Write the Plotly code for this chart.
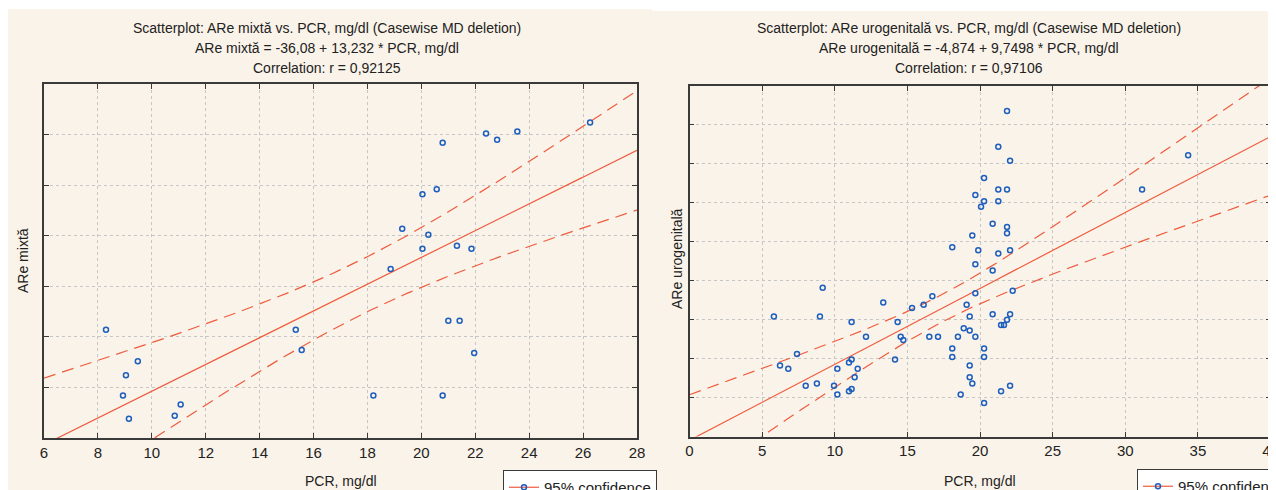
import numpy as np
import plotly.graph_objects as go

# ---------------- data ----------------
# Left panel: ARe mixtă vs PCR
PCR_MIX = [8.30, 9.48, 9.04, 8.93, 9.15, 11.07, 10.85, 15.34, 15.56, 26.26, 22.40, 22.81,
           23.56, 20.79, 20.57, 20.04, 19.29, 20.26, 20.04, 21.32, 21.86, 18.86, 21.00,
           21.42, 21.96, 18.22, 20.79]
ARE_MIX = [157, 126, 112, 92, 69, 83, 72, 157, 137, 362, 351, 345,
           353, 342, 296, 291, 257, 251, 237, 240, 237, 217, 166,
           166, 134, 92, 92]
MIX_INTERCEPT = -36.08
MIX_SLOPE = 13.232

# Right panel: ARe urogenitală vs PCR
PCR_URO = [5.81, 6.23, 6.80, 7.40, 8.00, 8.77, 8.98, 9.17, 9.95, 10.18, 10.18, 10.98,
           11.16, 11.16, 10.98, 11.16, 11.37, 11.58, 12.15, 13.34, 14.15, 14.33, 14.54,
           14.72, 15.32, 16.12, 16.51, 16.72, 17.11, 18.09, 18.09, 18.09, 18.48, 18.67,
           18.88, 19.08, 19.29, 19.29, 19.29, 19.29, 19.47, 19.47, 19.68, 19.68, 19.68,
           19.68, 19.88, 20.07, 20.28, 20.28, 20.28, 20.28, 20.28, 20.87, 20.87, 20.87,
           21.26, 21.26, 21.26, 21.26, 21.45, 21.65, 21.45, 21.86, 21.86, 21.86, 21.86,
           21.86, 22.07, 22.07, 22.07, 22.07, 22.25, 31.16, 34.33]
ARE_URO = [154, 91, 87, 106, 65, 68, 154, 191, 65, 54, 87, 95,
           99, 147, 58, 61, 76, 87, 128, 172, 99, 147, 128,
           124, 165, 169, 128, 180, 128, 243, 113, 102, 128, 54,
           139, 169, 154, 136, 91, 76, 68, 258, 310, 221, 184,
           128, 239, 295, 332, 302, 113, 102, 43, 273, 213, 157,
           372, 317, 302, 235, 143, 143, 58, 418, 317, 269, 261,
           150, 354, 239, 157, 65, 187, 317, 361]
URO_INTERCEPT = -4.874
URO_SLOPE = 9.7498

X_TICKS_MIX = [6, 8, 10, 12, 14, 16, 18, 20, 22, 24, 26, 28]
X_TICKS_URO = [0, 5, 10, 15, 20, 25, 30, 35, 40]
Y_TICKS_MIX = [50, 100, 150, 200, 250, 300, 350, 400]
Y_TICKS_URO = [0, 50, 100, 150, 200, 250, 300, 350, 400, 450]

TITLES_MIX = ["Scatterplot: ARe mixtă vs. PCR, mg/dl (Casewise MD deletion)",
              "ARe mixtă = -36,08 + 13,232 * PCR, mg/dl",
              "Correlation: r = 0,92125"]
TITLES_URO = ["Scatterplot: ARe urogenitală vs. PCR, mg/dl (Casewise MD deletion)",
              "ARe urogenitală = -4,874 + 9,7498 * PCR, mg/dl",
              "Correlation: r = 0,97106"]

# ---------------- styling ----------------
OFF = 8                      # page body margin
W, H = 1276 - OFF, 490 - OFF  # figure size so that page = window size
BEIGE = "#FAF3E9"
RED = "#EF5B3D"
BLUE = "#1E5FBE"
FRAME = "#3A3A3A"
GRID = "#C6C6C6"
FONT = "Liberation Sans, Arial, sans-serif"


def px_x(p):
    return (p - OFF) / W


def px_y(p):
    return 1 - (p - OFF) / H


def t975(df):
    z = 1.959963985
    return (z + (z**3 + z) / (4 * df) + (5 * z**5 + 16 * z**3 + 3 * z) / (96 * df**2)
            + (3 * z**7 + 19 * z**5 + 17 * z**3 - 15 * z) / (384 * df**3))


def fit_band(xs, ys, b0, b1, xr):
    x = np.asarray(xs, float)
    y = np.asarray(ys, float)
    n = len(x)
    res = y - (b0 + b1 * x)
    s = np.sqrt(np.sum(res**2) / (n - 2))
    xm = x.mean()
    sxx = np.sum((x - xm) ** 2)
    g = np.linspace(xr[0], xr[1], 300)
    yh = b0 + b1 * g
    hw = t975(n - 2) * s * np.sqrt(1 / n + (g - xm) ** 2 / sxx)
    return g, yh, yh - hw, yh + hw


fig = go.Figure()

panels = [
    dict(xs=PCR_MIX, ys=ARE_MIX, b0=MIX_INTERCEPT, b1=MIX_SLOPE, xr=[6, 28],
         xa="x", ya="y", legend="legend"),
    dict(xs=PCR_URO, ys=ARE_URO, b0=URO_INTERCEPT, b1=URO_SLOPE, xr=[0, 40],
         xa="x2", ya="y2", legend="legend2"),
]

for p in panels:
    g, yh, lo, hi = fit_band(p["xs"], p["ys"], p["b0"], p["b1"], p["xr"])
    for band in (lo, hi):
        fig.add_trace(go.Scatter(x=g, y=band, mode="lines",
                                 line=dict(color=RED, width=1.2, dash="12px,7px"),
                                 xaxis=p["xa"], yaxis=p["ya"], showlegend=False, hoverinfo="skip"))
    fig.add_trace(go.Scatter(x=g, y=yh, mode="lines", line=dict(color=RED, width=1.2),
                             xaxis=p["xa"], yaxis=p["ya"], showlegend=False, hoverinfo="skip"))
    fig.add_trace(go.Scatter(x=p["xs"], y=p["ys"], mode="markers",
                             marker=dict(symbol="circle-open", size=5, color=BLUE,
                                         line=dict(width=1.5, color=BLUE)),
                             xaxis=p["xa"], yaxis=p["ya"], showlegend=False))
    # legend entry (no marks drawn)
    fig.add_trace(go.Scatter(x=[None], y=[None], mode="lines+markers", name="95% confidence",
                             line=dict(color=RED, width=1.2),
                             marker=dict(symbol="circle-open", size=5, color=BLUE,
                                         line=dict(width=1.5, color=BLUE)),
                             xaxis=p["xa"], yaxis=p["ya"], showlegend=True, legend=p["legend"]))

axis_common = dict(
    showline=True, linecolor=FRAME, linewidth=1.5, mirror="ticks",
    ticks="inside", ticklen=5, tickcolor=FRAME, tickwidth=1,
    showgrid=True, gridcolor=GRID, gridwidth=1, griddash="3px,3px",
    zeroline=False, automargin=False,
    tickfont=dict(family=FONT, size=15, color="#222222"),
)

fig.update_layout(
    width=W, height=H,
    margin=dict(l=0, r=0, t=0, b=0, autoexpand=False),
    paper_bgcolor="white", plot_bgcolor="white",
    font=dict(family=FONT, color="#222222"),
    xaxis=dict(domain=[px_x(44), px_x(637)], range=[6, 28], tickvals=X_TICKS_MIX,
               anchor="y", **axis_common),
    yaxis=dict(domain=[px_y(438), px_y(84)], range=[50, 400], tickvals=Y_TICKS_MIX,
               showticklabels=False, anchor="x", **axis_common),
    xaxis2=dict(domain=[px_x(689.5), px_x(1270.5)], range=[0, 40], tickvals=X_TICKS_URO,
                anchor="y2", ticklabeloverflow="allow", **axis_common),
    yaxis2=dict(domain=[px_y(436.5), px_y(86)], range=[0, 450], tickvals=Y_TICKS_URO,
                showticklabels=False, anchor="x2", **axis_common),
    legend=dict(x=px_x(503), y=px_y(470), xanchor="left", yanchor="top",
                bgcolor="white", bordercolor=FRAME, borderwidth=1, itemwidth=30,
                font=dict(family=FONT, size=15, color="#222222")),
    legend2=dict(x=px_x(1137), y=px_y(469), xanchor="left", yanchor="top",
                 bgcolor="white", bordercolor=FRAME, borderwidth=1, itemwidth=30,
                 font=dict(family=FONT, size=15, color="#222222")),
    shapes=[
        dict(type="rect", xref="paper", yref="paper", x0=px_x(5), x1=px_x(652), y0=0, y1=px_y(9),
             fillcolor=BEIGE, line=dict(width=0), layer="below"),
        dict(type="rect", xref="paper", yref="paper", x0=px_x(652), x1=1, y0=0, y1=px_y(11),
             fillcolor=BEIGE, line=dict(width=0), layer="below"),
    ],
)

annotations = []
for cx, lines in [(327, TITLES_MIX), (969, TITLES_URO)]:
    for i, txt in enumerate(lines):
        annotations.append(dict(text=txt, xref="paper", yref="paper", x=px_x(cx), y=px_y(28 + 20 * i),
                                xanchor="center", yanchor="middle", showarrow=False,
                                font=dict(family=FONT, size=14, color="#222222")))
# axis titles
for cx, txt in [(340.5, "PCR, mg/dl"), (980, "PCR, mg/dl")]:
    annotations.append(dict(text=txt, xref="paper", yref="paper", x=px_x(cx), y=px_y(481),
                            xanchor="center", yanchor="middle", showarrow=False,
                            font=dict(family=FONT, size=14, color="#222222")))
for cx, cy, txt in [(23, 261, "ARe mixtă"), (677, 259, "ARe urogenitală")]:
    annotations.append(dict(text=txt, xref="paper", yref="paper", x=px_x(cx), y=px_y(cy),
                            xanchor="center", yanchor="middle", showarrow=False, textangle=-90,
                            font=dict(family=FONT, size=14, color="#222222")))
fig.update_layout(annotations=annotations)

fig.write_html("out.html")
